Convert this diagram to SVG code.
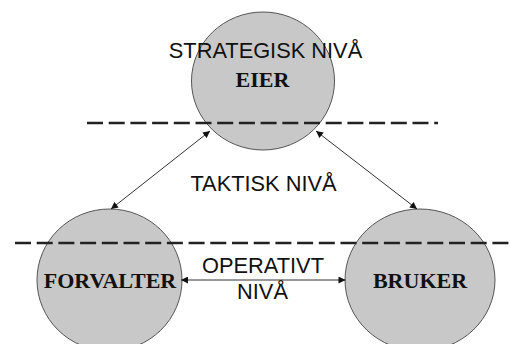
<svg xmlns="http://www.w3.org/2000/svg" width="511" height="344" viewBox="0 0 511 344">
<style>
.node{fill:#c8c8c8;stroke:#555;stroke-width:1}
.lbl{font-family:"Liberation Serif","Times New Roman",serif;font-weight:bold;font-size:22px;fill:#111;text-anchor:middle}
.lvl{font-family:"Liberation Sans",Arial,sans-serif;font-size:21.8px;fill:#111;text-anchor:middle}
.dash{stroke:#222;stroke-width:2.5;stroke-dasharray:16 5.7;fill:none}
.conn{stroke:#333;stroke-width:1;fill:none;marker-start:url(#ah);marker-end:url(#ah)}
</style>
<defs>
<marker id="ah" viewBox="0 0 10 10" refX="10" refY="5" markerWidth="9" markerHeight="7" markerUnits="userSpaceOnUse" orient="auto-start-reverse">
<path d="M0,0 L10,5 L0,10 z" fill="#111"/>
</marker>
</defs>
<rect width="511" height="344" fill="#fff"/>
<g id="eier">
<ellipse class="node" cx="263" cy="81" rx="71.5" ry="69"/>
<text class="lbl" x="262.5" y="87">EIER</text>
</g>
<g id="forvalter">
<ellipse class="node" cx="109.5" cy="280" rx="72.5" ry="71"/>
<text class="lbl" x="110" y="288">FORVALTER</text>
</g>
<g id="bruker">
<ellipse class="node" cx="420" cy="280" rx="75" ry="71"/>
<text class="lbl" x="420" y="288">BRUKER</text>
</g>
<g id="levels">
<line class="dash" x1="87" y1="123" x2="438" y2="123"/>
<line class="dash" x1="15" y1="243" x2="511" y2="243"/>
<text class="lvl" x="265.5" y="58">STRATEGISK NIVÅ</text>
<text class="lvl" x="263.5" y="190.5">TAKTISK NIVÅ</text>
<text class="lvl" x="263" y="273">OPERATIVT</text>
<text class="lvl" x="262.5" y="299">NIVÅ</text>
</g>
<g id="connectors">
<line class="conn" x1="210" y1="131" x2="111" y2="209"/>
<line class="conn" x1="316" y1="131" x2="417" y2="209"/>
<line class="conn" x1="181" y1="280" x2="345.5" y2="280"/>
</g>
</svg>
